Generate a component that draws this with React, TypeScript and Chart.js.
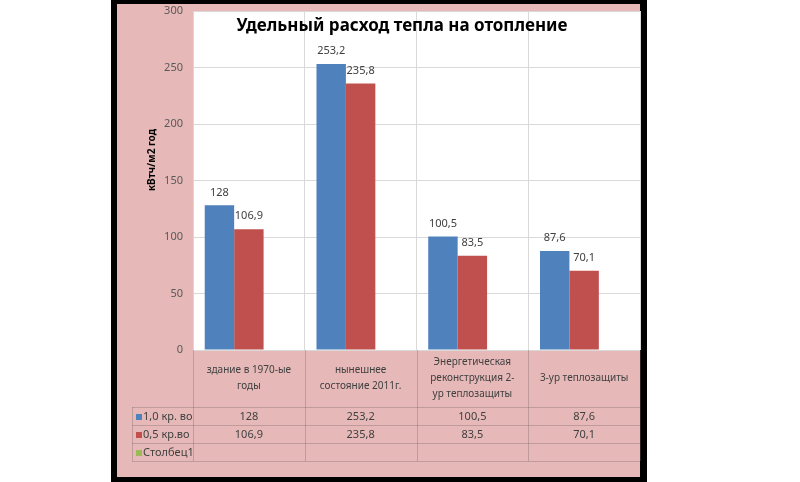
import React, { useEffect, useRef } from "react";
import { Chart, registerables } from "chart.js";

Chart.register(...registerables);

const chartTitle = "Удельный расход тепла на отопление";
const yAxisTitle = "кВтч/м2 год";
const categoryLines: string[][] = [
  ["здание в 1970-ые", "годы"],
  ["нынешнее", "состояние 2011г."],
  ["Энергетическая", "реконструкция 2-", "ур теплозащиты"],
  ["3-ур теплозащиты"],
];
const seriesNames = ["1,0 кр. во", "0,5 кр.во", "Столбец1"];
const seriesA = [128, 253.2, 100.5, 87.6];
const seriesB = [106.9, 235.8, 83.5, 70.1];
const seriesC: (number | null)[] = [null, null, null, null];
const seriesColors = ["#4F81BD", "#C0504D", "#9BBB59"];
const yMin = 0;
const yMax = 300;
const yStep = 50;

const FONT = "'Noto Sans', 'Open Sans', sans-serif";
const PINK = "#E6B9B8";
const TEXT = "#404040";
const LINE = "rgba(120,100,100,0.35)";

const fmt = (v: number | null) => (v == null ? "" : String(v).replace(".", ","));

const framePlugin = {
  id: "frame",
  beforeDraw(chart: any) {
    const ctx = chart.ctx;
    const a = chart.chartArea;
    ctx.save();
    ctx.fillStyle = "#ffffff";
    ctx.fillRect(0, 0, chart.width, chart.height);
    ctx.fillStyle = "#000000";
    ctx.fillRect(111, 0, 536, 482);
    ctx.fillStyle = PINK;
    ctx.fillRect(117, 4, 523, 473);
    ctx.fillStyle = "#ffffff";
    ctx.fillRect(a.left, a.top, a.right - a.left, a.bottom - a.top);
    ctx.restore();
  },
  afterDraw(chart: any) {
    const ctx = chart.ctx;
    const a = chart.chartArea;
    const xs = chart.scales.x;
    ctx.save();

    // title
    ctx.fillStyle = "#000000";
    ctx.font = `bold 17px ${FONT}`;
    ctx.textAlign = "center";
    ctx.textBaseline = "middle";
    ctx.fillText(chartTitle, 402, 26);

    // y axis title
    ctx.save();
    ctx.translate(152, 160);
    ctx.rotate(-Math.PI / 2);
    ctx.font = `bold 10px ${FONT}`;
    ctx.fillStyle = "#000000";
    ctx.fillText(yAxisTitle, 0, 0);
    ctx.restore();

    // data labels
    ctx.font = `11px ${FONT}`;
    ctx.fillStyle = TEXT;
    chart.data.datasets.forEach((ds: any, di: number) => {
      const meta = chart.getDatasetMeta(di);
      meta.data.forEach((el: any, i: number) => {
        const v = ds.data[i];
        if (v == null) return;
        ctx.fillText(fmt(v), el.x, el.y - 13);
      });
    });

    // table
    const n = categoryLines.length;
    const half = (xs.getPixelForValue(1) - xs.getPixelForValue(0)) / 2;
    const bounds: number[] = [];
    for (let i = 0; i < n; i++) bounds.push(xs.getPixelForValue(i) - half);
    bounds.push(xs.getPixelForValue(n - 1) + half);
    const top = a.bottom;
    const headerBottom = top + 57;
    const rowH = 18;
    const rowYs = [headerBottom, headerBottom + rowH, headerBottom + 2 * rowH, headerBottom + 3 * rowH];
    const legendLeft = 132;

    ctx.strokeStyle = LINE;
    ctx.lineWidth = 1;
    ctx.beginPath();
    bounds.forEach((bx) => {
      ctx.moveTo(Math.round(bx) + 0.5, top);
      ctx.lineTo(Math.round(bx) + 0.5, rowYs[3]);
    });
    ctx.moveTo(legendLeft + 0.5, rowYs[0]);
    ctx.lineTo(legendLeft + 0.5, rowYs[3]);
    rowYs.forEach((ry) => {
      ctx.moveTo(legendLeft, ry + 0.5);
      ctx.lineTo(bounds[n], ry + 0.5);
    });
    ctx.stroke();

    // category header
    ctx.font = `10px ${FONT}`;
    ctx.fillStyle = TEXT;
    ctx.textAlign = "center";
    ctx.textBaseline = "middle";
    const lh = 16;
    categoryLines.forEach((lines, i) => {
      const cx = (bounds[i] + bounds[i + 1]) / 2;
      const cy = (top + headerBottom) / 2;
      lines.forEach((ln, k) => {
        ctx.fillText(ln, cx, cy + (k - (lines.length - 1) / 2) * lh);
      });
    });

    // data rows
    const allSeries = [seriesA, seriesB, seriesC];
    ctx.font = `11px ${FONT}`;
    allSeries.forEach((s, r) => {
      const cy = (rowYs[r] + rowYs[r + 1]) / 2 + 1;
      s.forEach((v, i) => {
        const cx = (bounds[i] + bounds[i + 1]) / 2;
        ctx.fillText(fmt(v), cx, cy);
      });
      ctx.fillStyle = seriesColors[r];
      ctx.fillRect(legendLeft + 4, cy - 3, 6, 6);
      ctx.fillStyle = TEXT;
      ctx.textAlign = "left";
      ctx.fillText(seriesNames[r], legendLeft + 11, cy);
      ctx.textAlign = "center";
    });

    ctx.restore();
  },
};

export default function App() {
  const ref = useRef<HTMLCanvasElement | null>(null);
  useEffect(() => {
    document.body.style.margin = "0";
    const canvas = ref.current!;
    const chart = new Chart(canvas, {
      type: "bar",
      data: {
        labels: categoryLines.map((l) => l.join(" ")),
        datasets: [
          { label: seriesNames[0], data: seriesA, backgroundColor: seriesColors[0] },
          { label: seriesNames[1], data: seriesB, backgroundColor: seriesColors[1] },
          { label: seriesNames[2], data: seriesC as any, backgroundColor: seriesColors[2] },
        ],
      },
      options: {
        responsive: false,
        animation: false,
        devicePixelRatio: 1,
        layout: { padding: { left: 130, right: 160, top: 11, bottom: 132 } },
        datasets: { bar: { barPercentage: 1, categoryPercentage: 0.79 } },
        plugins: {
          legend: { display: false },
          title: { display: false },
          tooltip: { enabled: false },
        },
        scales: {
          x: {
            type: "category",
            grid: { color: "#D9D9D9", offset: true, drawTicks: false },
            ticks: { display: false },
            border: { display: false },
            afterFit: (s: any) => {
              s.height = 0;
              s.paddingLeft = 0;
              s.paddingRight = 0;
            },
          },
          y: {
            min: yMin,
            max: yMax,
            ticks: {
              stepSize: yStep,
              color: "#595959",
              font: { family: FONT, size: 11 },
              padding: 10,
            },
            grid: { color: "#D9D9D9", drawTicks: false },
            border: { display: false },
            afterFit: (s: any) => {
              s.width = 63;
              s.paddingTop = 0;
              s.paddingBottom = 0;
            },
          },
        },
      } as any,
      plugins: [framePlugin],
    });
    return () => chart.destroy();
  }, []);
  return (
    <div style={{ position: "absolute", left: 0, top: 0, width: 800, height: 482 }}>
      <canvas ref={ref} width={800} height={482} style={{ width: 800, height: 482, display: "block" }} />
    </div>
  );
}
